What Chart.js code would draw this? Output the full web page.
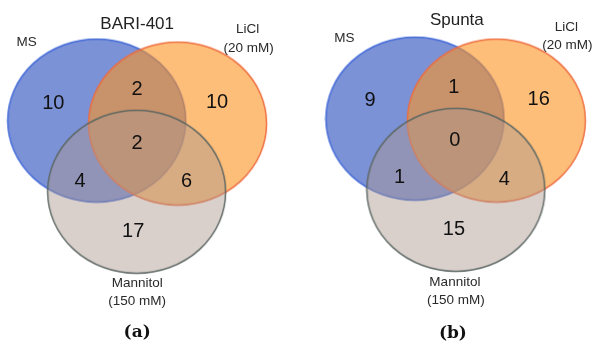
<!DOCTYPE html>
<html>
<head>
<meta charset="utf-8">
<script src="https://cdn.jsdelivr.net/npm/chart.js@4/dist/chart.umd.min.js"></script>
<style>
  html, body { margin: 0; padding: 0; background: #fff; }
  #wrap { position: relative; width: 595px; height: 348px; overflow: hidden; }
  .panel { position: absolute; top: 0; height: 348px; }
  canvas { display: block; }
</style>
</head>
<body>
<div id="wrap">
  <div class="panel" style="left:0;width:298px"><canvas id="vennA" width="298" height="348"></canvas></div>
  <div class="panel" style="left:298px;width:297px"><canvas id="vennB" width="297" height="348"></canvas></div>
</div>
<script>
// Treatments compared in each cultivar
const sets = ['MS', 'LiCl (20 mM)', 'Mannitol (150 mM)'];
// Venn regions, in the order the counts are listed
const regions = ['MS only', 'MS ∩ LiCl', 'LiCl only', 'MS ∩ LiCl ∩ Mannitol',
                 'MS ∩ Mannitol', 'LiCl ∩ Mannitol', 'Mannitol only'];
// Number of proteins in each region
const countsBari = [10, 2, 10, 2, 4, 6, 17];
const countsSpunta = [9, 1, 16, 0, 1, 4, 15];
const cultivars = ['BARI-401', 'Spunta'];
const panelTags = ['(a)', '(b)'];

// Drawing layout (panel units = pixels of each 348-high panel)
const setStyles = [
  { fill: 'rgba(30,68,186,0.58)', stroke: 'rgba(62,102,215,0.95)' },
  { fill: 'rgba(252,147,33,0.60)', stroke: 'rgba(238,108,62,0.95)' },
  { fill: 'rgba(170,150,141,0.45)', stroke: 'rgba(92,102,98,0.95)' }
];
const RX = 89, RY = 81.5, LINE_W = 1.5;

const layouts = [
  {
    canvas: 'vennA', width: 298,
    centers: [[96, 120], [178, 123], [136.5, 192]],
    regionPos: [[52, 103], [137, 88], [218, 102], [137, 143], [79, 182], [187, 182], [133, 232]],
    titlePos: [137, 23],
    setLabelPos: [[[25, 41]], [[249, 28], [250, 47]], [[137, 285], [137, 303]]],
    tagPos: [137, 334]
  },
  {
    canvas: 'vennB', width: 297,
    centers: [[116.5, 118], [199, 120], [158, 190]],
    regionPos: [[71, 100], [156, 86], [242, 99], [157, 140], [101, 178], [207, 180], [156, 230]],
    titlePos: [159, 19],
    setLabelPos: [[[45, 37]], [[270, 26], [271, 44]], [[157, 284], [158, 302]]],
    tagPos: [155, 335]
  }
];

function ellipseSprite(fill, stroke) {
  const c = document.createElement('canvas');
  c.width = Math.ceil(2 * RX + 2 * LINE_W);
  c.height = Math.ceil(2 * RY + 2 * LINE_W);
  const g = c.getContext('2d');
  g.beginPath();
  g.ellipse(c.width / 2, c.height / 2, RX, RY, 0, 0, Math.PI * 2);
  g.fillStyle = fill;
  g.fill();
  g.lineWidth = LINE_W;
  g.strokeStyle = stroke;
  g.stroke();
  return c;
}

function splitLabel(name) {
  const i = name.indexOf(' (');
  return i < 0 ? [name] : [name.slice(0, i), name.slice(i + 1)];
}

const vennText = {
  id: 'vennText',
  afterDatasetsDraw(chart, args, opts) {
    const { ctx } = chart;
    const sx = chart.scales.x, sy = chart.scales.y;
    const L = opts.layout;
    const px = p => [sx.getPixelForValue(p[0]), sy.getPixelForValue(p[1])];
    ctx.save();
    ctx.textAlign = 'center';
    ctx.textBaseline = 'middle';

    ctx.fillStyle = '#111';
    ctx.font = '20px "Liberation Sans", Arial, sans-serif';
    opts.counts.forEach((v, i) => {
      const [x, y] = px(L.regionPos[i]);
      ctx.fillText(String(v), x, y);
    });

    ctx.fillStyle = '#222';
    ctx.font = '17px "Liberation Sans", Arial, sans-serif';
    const [tx, ty] = px(L.titlePos);
    ctx.fillText(opts.title, tx, ty);

    ctx.fillStyle = '#2a2a2a';
    ctx.font = '13.5px "Liberation Sans", Arial, sans-serif';
    sets.forEach((name, i) => {
      splitLabel(name).forEach((line, j) => {
        const [x, y] = px(L.setLabelPos[i][j]);
        ctx.fillText(line, x, y);
      });
    });

    ctx.fillStyle = '#111';
    ctx.font = 'bold 17px "DejaVu Serif", serif';
    const [gx, gy] = px(L.tagPos);
    ctx.fillText(opts.tag, gx, gy);
    ctx.restore();
  }
};

function drawPanel(k, counts) {
  const L = layouts[k];
  const datasets = sets.map((name, i) => ({
    label: name,
    data: [{ x: L.centers[i][0], y: L.centers[i][1] }],
    pointStyle: ellipseSprite(setStyles[i].fill, setStyles[i].stroke),
    pointRadius: 1,
    pointHoverRadius: 1,
    clip: false,
    // MS at the bottom, Mannitol on top
    order: sets.length - 1 - i
  }));
  new Chart(document.getElementById(L.canvas), {
    type: 'scatter',
    data: { datasets },
    options: {
      responsive: false,
      maintainAspectRatio: false,
      animation: false,
      events: [],
      layout: { padding: 0 },
      scales: {
        x: { type: 'linear', min: 0, max: L.width, display: false },
        y: { type: 'linear', min: 0, max: 348, reverse: true, display: false }
      },
      plugins: {
        legend: { display: false },
        tooltip: { enabled: false },
        vennText: { layout: L, counts, title: cultivars[k], tag: panelTags[k] }
      }
    },
    plugins: [vennText]
  });
}

drawPanel(0, countsBari);
drawPanel(1, countsSpunta);
</script>
</body>
</html>
